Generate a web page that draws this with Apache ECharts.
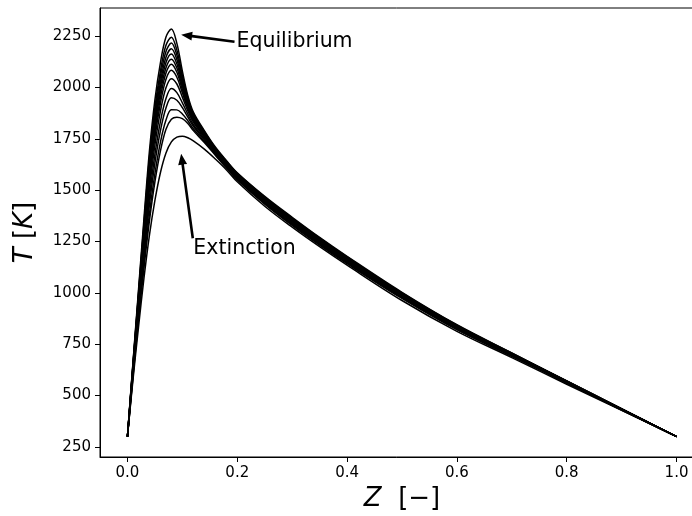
<!DOCTYPE html>
<html>
<head>
<meta charset="utf-8">
<script src="https://cdn.jsdelivr.net/npm/echarts@6/dist/echarts.min.js"></script>
<style>html,body{margin:0;padding:0;background:#fff;}#c{width:692px;height:516px;}</style>
</head>
<body>
<div id="c"></div>
<script>
// Mixture fraction grid (x values)
const Z = [0, 0.01, 0.02, 0.03, 0.04, 0.05, 0.06, 0.07, 0.08, 0.09, 0.10, 0.11, 0.12, 0.14, 0.16, 0.18, 0.20, 0.25, 0.30, 0.35, 0.40, 0.50, 0.60, 0.70, 0.80, 0.90, 1.00];
// Temperature profiles, from equilibrium (highest peak) to extinction (lowest peak)
const T01 = [300, 660, 1010, 1360, 1690, 1940, 2120, 2245, 2285, 2215, 2080, 1960, 1880, 1790, 1710, 1645, 1585, 1470, 1368, 1270, 1178, 1003, 845, 708, 572, 436, 300];
const T02 = [300, 654, 997, 1338, 1659, 1903, 2080, 2204, 2245, 2182, 2059, 1948, 1872, 1785, 1706, 1642, 1582, 1467, 1364, 1267, 1175, 1000, 843, 706, 571, 435, 300];
const T03 = [300, 649, 987, 1322, 1637, 1877, 2052, 2174, 2216, 2158, 2044, 1939, 1866, 1781, 1704, 1639, 1580, 1464, 1362, 1264, 1172, 998, 841, 705, 570, 435, 300];
const T04 = [300, 645, 978, 1307, 1615, 1852, 2025, 2146, 2188, 2136, 2029, 1930, 1860, 1777, 1701, 1637, 1577, 1462, 1359, 1262, 1170, 996, 840, 704, 570, 435, 300];
const T05 = [300, 641, 970, 1294, 1596, 1829, 2001, 2120, 2163, 2115, 2016, 1923, 1855, 1774, 1699, 1635, 1575, 1459, 1357, 1259, 1168, 995, 838, 703, 569, 434, 300];
const T06 = [300, 637, 962, 1280, 1577, 1807, 1977, 2095, 2138, 2095, 2003, 1915, 1850, 1771, 1697, 1633, 1573, 1457, 1355, 1257, 1166, 993, 837, 702, 568, 434, 300];
const T07 = [300, 633, 953, 1266, 1557, 1783, 1951, 2069, 2113, 2074, 1989, 1907, 1845, 1767, 1694, 1631, 1571, 1455, 1352, 1255, 1164, 991, 836, 701, 568, 434, 300];
const T08 = [300, 628, 944, 1250, 1535, 1757, 1923, 2039, 2084, 2050, 1974, 1898, 1839, 1763, 1692, 1629, 1569, 1453, 1350, 1253, 1162, 989, 834, 700, 567, 433, 300];
const T09 = [300, 622, 930, 1228, 1503, 1720, 1884, 1998, 2043, 2017, 1953, 1886, 1831, 1758, 1688, 1625, 1566, 1449, 1346, 1249, 1158, 987, 832, 699, 566, 433, 300];
const T10 = [300, 613, 913, 1200, 1464, 1674, 1834, 1945, 1995, 1975, 1925, 1870, 1820, 1751, 1683, 1621, 1562, 1445, 1341, 1245, 1154, 983, 829, 697, 565, 432, 300];
const T11 = [300, 606, 899, 1175, 1429, 1632, 1789, 1899, 1950, 1938, 1902, 1856, 1811, 1745, 1679, 1617, 1558, 1441, 1337, 1241, 1150, 980, 827, 695, 564, 431, 300];
const T12 = [300, 597, 880, 1144, 1384, 1580, 1733, 1840, 1892, 1891, 1871, 1838, 1799, 1738, 1674, 1613, 1553, 1436, 1332, 1236, 1146, 976, 823, 693, 562, 431, 300];
const T13 = [300, 590, 865, 1120, 1350, 1540, 1690, 1795, 1845, 1855, 1848, 1825, 1790, 1732, 1670, 1609, 1550, 1432, 1328, 1232, 1142, 973, 821, 691, 561, 430, 300];
const T14 = [300, 575, 830, 1070, 1280, 1450, 1585, 1680, 1735, 1758, 1763, 1755, 1740, 1700, 1652, 1600, 1541, 1422, 1320, 1225, 1135, 963, 813, 685, 555, 428, 300];
const profiles = [T01, T02, T03, T04, T05, T06, T07, T08, T09, T10, T11, T12, T13, T14];

// Tick labels
const xTicks = [0.0, 0.2, 0.4, 0.6, 0.8, 1.0];
const yTicks = [250, 500, 750, 1000, 1250, 1500, 1750, 2000, 2250];

// Annotations: text, text anchor (Z, T), arrow tail (Z, T), arrow tip (Z, T)
const annEqText = 'Equilibrium';
const annEqTextPos = [0.1985, 2225];
const annEqTail = [0.195, 2223];
const annEqTip = [0.0978, 2257];
const annExText = 'Extinction';
const annExTextPos = [0.120, 1214];
const annExTail = [0.119, 1266];
const annExTip = [0.0978, 1678];

const FONT = 'DejaVu Sans';
const chart = echarts.init(document.getElementById('c'), null, {renderer: 'canvas', width: 692, height: 516});

const series = profiles.map((T, k) => ({
  type: 'line',
  name: 'p' + k,
  data: Z.map((z, i) => [z, T[i]]),
  smooth: 0.35,
  symbol: 'none',
  lineStyle: {color: '#000', width: 1.5},
  silent: true,
  z: 3
}));

chart.setOption({
  animation: false,
  backgroundColor: '#fff',
  grid: {left: 100, top: 8, width: 604, height: 449, outerBoundsMode: 'none', containLabel: false, show: true, borderColor: '#000', borderWidth: 1, backgroundColor: 'transparent'},
  xAxis: {
    type: 'value', min: -0.05, max: 1.05,
    name: '{i|Z}  [\u2212]', nameLocation: 'middle', nameGap: 25,
    nameTextStyle: {fontFamily: FONT, fontSize: 26, color: '#000', rich: {i: {fontFamily: FONT, fontSize: 26, fontStyle: 'italic', color: '#000'}}},
    axisLine: {show: true, onZero: false, lineStyle: {color: '#000', width: 1}},
    axisTick: {show: true, length: 5, lineStyle: {color: '#000', width: 1}, customValues: xTicks},
    axisLabel: {show: true, margin: 9, fontFamily: FONT, fontSize: 15, color: '#000', customValues: xTicks, formatter: v => v.toFixed(1)},
    splitLine: {show: false}
  },
  yAxis: {
    type: 'value', min: 201, max: 2387,
    name: '{i|T} [{i|K}]', nameLocation: 'middle', nameGap: 62, nameRotate: 90,
    nameTextStyle: {fontFamily: FONT, fontSize: 26, color: '#000', rich: {i: {fontFamily: FONT, fontSize: 26, fontStyle: 'italic', color: '#000'}}},
    axisLine: {show: true, onZero: false, lineStyle: {color: '#000', width: 1}},
    axisTick: {show: true, length: 5, lineStyle: {color: '#000', width: 1}, customValues: yTicks},
    axisLabel: {show: true, margin: 9, fontFamily: FONT, fontSize: 15, color: '#000', customValues: yTicks, formatter: v => String(v)},
    splitLine: {show: false}
  },
  series: series
});

function arrowPoly(tail, tip) {
  const p0 = chart.convertToPixel({gridIndex: 0}, tail);
  const p1 = chart.convertToPixel({gridIndex: 0}, tip);
  const dx = p1[0] - p0[0], dy = p1[1] - p0[1];
  const len = Math.sqrt(dx * dx + dy * dy);
  const ux = dx / len, uy = dy / len, nx = -uy, ny = ux;
  const w = 1.3, W = 4.5, L = 11;
  const bx = p1[0] - ux * L, by = p1[1] - uy * L;
  return [
    [p0[0] + nx * w, p0[1] + ny * w],
    [bx + nx * w, by + ny * w],
    [bx + nx * W, by + ny * W],
    [p1[0], p1[1]],
    [bx - nx * W, by - ny * W],
    [bx - nx * w, by - ny * w],
    [p0[0] - nx * w, p0[1] - ny * w]
  ];
}
function textEl(txt, pos) {
  const p = chart.convertToPixel({gridIndex: 0}, pos);
  return {type: 'text', z: 10, style: {text: txt, x: p[0], y: p[1], fill: '#000', font: '20.5px "DejaVu Sans"', align: 'left', verticalAlign: 'middle'}};
}
chart.setOption({
  graphic: [
    {type: 'polygon', z: 10, shape: {points: arrowPoly(annEqTail, annEqTip)}, style: {fill: '#000'}},
    {type: 'polygon', z: 10, shape: {points: arrowPoly(annExTail, annExTip)}, style: {fill: '#000'}},
    textEl(annEqText, annEqTextPos),
    textEl(annExText, annExTextPos)
  ]
});
</script>
</body>
</html>
